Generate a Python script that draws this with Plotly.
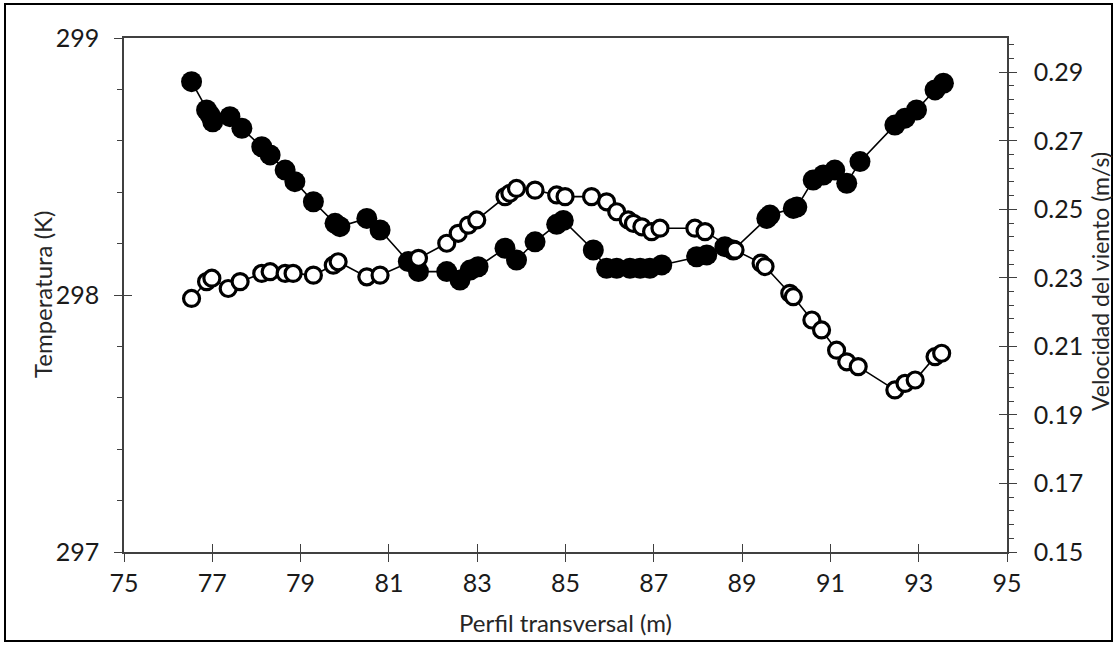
import plotly.graph_objects as go

# Filled circles: Temperatura (K) -> left axis
temp_x = [76.53, 76.87, 76.95, 77.01, 77.40, 77.67, 78.12, 78.31, 78.65, 78.87,
          79.29, 79.78, 79.89, 80.50, 80.80, 81.44, 81.67, 82.31, 82.61, 82.84,
          83.02, 83.63, 83.89, 84.31, 84.80, 84.95, 85.63, 85.93, 86.16,
          86.46, 86.69, 86.91, 87.18, 87.97, 88.20, 88.61, 88.80, 89.56, 89.63,
          90.16, 90.24, 90.61, 90.84, 91.10, 91.37, 91.67, 92.46, 92.69, 92.95,
          93.37, 93.56]
temp_y = [298.830, 298.720, 298.700, 298.674, 298.694, 298.649, 298.577, 298.545, 298.486, 298.441,
          298.363, 298.279, 298.266, 298.298, 298.253, 298.130, 298.091, 298.091, 298.058, 298.097,
          298.110, 298.182, 298.136, 298.207, 298.275, 298.290, 298.175, 298.104, 298.104,
          298.104, 298.104, 298.104, 298.117, 298.149, 298.156, 298.188, 298.175, 298.298, 298.311,
          298.337, 298.342, 298.447, 298.467, 298.486, 298.435, 298.519, 298.661, 298.688, 298.720,
          298.798, 298.824]

# Open circles: Velocidad del viento (m/s) -> right axis
vel_x = [76.53, 76.87, 76.99, 77.36, 77.63, 78.12, 78.31, 78.65, 78.83, 79.29,
         79.74, 79.85, 80.50, 80.80, 81.67, 82.31, 82.57, 82.80, 82.99, 83.63,
         83.74, 83.89, 84.31, 84.80, 84.99, 85.59, 85.93, 86.16, 86.42, 86.54,
         86.73, 86.95, 87.14, 87.93, 88.16, 88.84, 89.43, 89.52, 90.08, 90.16,
         90.58, 90.80, 91.14, 91.37, 91.63, 92.46, 92.69, 92.92, 93.37, 93.52]
vel_y = [0.2240, 0.2289, 0.2299, 0.2269, 0.2289, 0.2313, 0.2318, 0.2313, 0.2313, 0.2308,
         0.2337, 0.2347, 0.2303, 0.2308, 0.2357, 0.2401, 0.2430, 0.2454, 0.2469, 0.2537,
         0.2547, 0.2561, 0.2556, 0.2542, 0.2537, 0.2537, 0.2522, 0.2493, 0.2469, 0.2459,
         0.2449, 0.2435, 0.2445, 0.2445, 0.2435, 0.2381, 0.2343, 0.2333, 0.2255, 0.2245,
         0.2177, 0.2148, 0.2089, 0.2055, 0.2041, 0.1973, 0.1992, 0.2002, 0.2070, 0.2080]

x_ticks = [75, 77, 79, 81, 83, 85, 87, 89, 91, 93, 95]
t_ticks = [297, 298, 299]
v_ticks = [0.15, 0.17, 0.19, 0.21, 0.23, 0.25, 0.27, 0.29]

FONT = "Lato"
AX = "#404040"
TF = dict(family=FONT, size=25, color="#1a1a1a")
TT = dict(family=FONT, size=24, color="#262626")

fig = go.Figure()

fig.add_trace(go.Scatter(
    x=vel_x, y=vel_y, yaxis="y2", mode="lines+markers",
    line=dict(color="black", width=1.6),
    marker=dict(symbol="circle", size=16, color="white",
                line=dict(color="black", width=3.2)),
    showlegend=False, name="Velocidad"))

fig.add_trace(go.Scatter(
    x=temp_x, y=temp_y, mode="lines+markers",
    line=dict(color="black", width=1.6),
    marker=dict(symbol="circle", size=21, color="black",
                line=dict(color="black", width=0)),
    showlegend=False, name="Temperatura"))

# dummy traces to activate the overlay (inside-tick) axes
fig.add_trace(go.Scatter(x=[None], y=[None], xaxis="x2", yaxis="y3",
                         showlegend=False, hoverinfo="skip"))
fig.add_trace(go.Scatter(x=[None], y=[None], xaxis="x2", yaxis="y4",
                         showlegend=False, hoverinfo="skip"))

fig.update_layout(
    width=1116, height=645,
    margin=dict(l=124, r=109, t=38, b=93),
    paper_bgcolor="white", plot_bgcolor="white",
    font=TF,
    xaxis=dict(range=[75, 95], tickvals=x_ticks, ticktext=[str(v) for v in x_ticks],
               ticks="outside", ticklen=8, tickwidth=1.3, tickcolor=AX,
               showline=True, linecolor=AX, linewidth=1.5, mirror=True,
               showgrid=False, zeroline=False, tickfont=TF,
               ticklabelstandoff=0,
               title=dict(text="Perfil transversal (m)", font=TT, standoff=19)),
    xaxis2=dict(range=[75, 95], overlaying="x", anchor="y", side="bottom",
                tickvals=x_ticks, ticks="inside", ticklen=8, tickwidth=1.3,
                tickcolor=AX, showticklabels=False, showline=False,
                showgrid=False, zeroline=False),
    yaxis=dict(range=[297, 299], tickvals=t_ticks, ticktext=[str(v) for v in t_ticks],
               ticks="outside", ticklen=8, tickwidth=1.3, tickcolor=AX,
               minor=dict(tick0=297, dtick=0.2, ticks="outside", ticklen=5,
                          tickwidth=1.2, tickcolor=AX, showgrid=False),
               showline=True, linecolor=AX, linewidth=1.5,
               showgrid=False, zeroline=False, tickfont=TF,
               ticklabelstandoff=10),
    yaxis2=dict(range=[0.15, 0.30], overlaying="y", side="right", anchor="x",
                tickvals=v_ticks, ticktext=["%.2f" % v for v in v_ticks],
                ticks="outside", ticklen=8, tickwidth=1.3, tickcolor=AX,
                minor=dict(tick0=0.15, dtick=0.004, ticks="outside", ticklen=5,
                           tickwidth=1.2, tickcolor=AX, showgrid=False),
                showline=True, linecolor=AX, linewidth=1.5,
                showgrid=False, zeroline=False, tickfont=TF,
                ticklabelstandoff=12),
    yaxis3=dict(range=[297, 299], overlaying="y", anchor="x", side="left",
                tickvals=t_ticks, ticks="inside", ticklen=8, tickwidth=1.3,
                tickcolor=AX, showticklabels=False, showline=False,
                showgrid=False, zeroline=False),
    yaxis4=dict(range=[0.15, 0.30], overlaying="y", anchor="x", side="right",
                tickvals=v_ticks, ticks="inside", ticklen=8, tickwidth=1.3,
                tickcolor=AX, showticklabels=False, showline=False,
                showgrid=False, zeroline=False),
    annotations=[
        dict(text="Temperatura (K)", textangle=-90,
             xref="paper", yref="paper",
             x=(42 - 124) / 883, y=(552 - 295) / 514,
             xanchor="center", yanchor="middle", showarrow=False,
             font=TT),
        dict(text="Velocidad del viento (m/s)", textangle=-90,
             xref="paper", yref="paper",
             x=(1100 - 124) / 883, y=(552 - 282) / 514,
             xanchor="center", yanchor="middle", showarrow=False,
             font=dict(family=FONT, size=23, color="#262626"))],
    shapes=[dict(type="rect", xref="paper", yref="paper",
                 x0=(5 - 124) / 883, x1=(1112 - 124) / 883,
                 y0=(552 - 641) / 514, y1=(552 - 4) / 514,
                 line=dict(color="black", width=2), fillcolor="rgba(0,0,0,0)",
                 layer="above")],
)

fig.write_html("out.html")
